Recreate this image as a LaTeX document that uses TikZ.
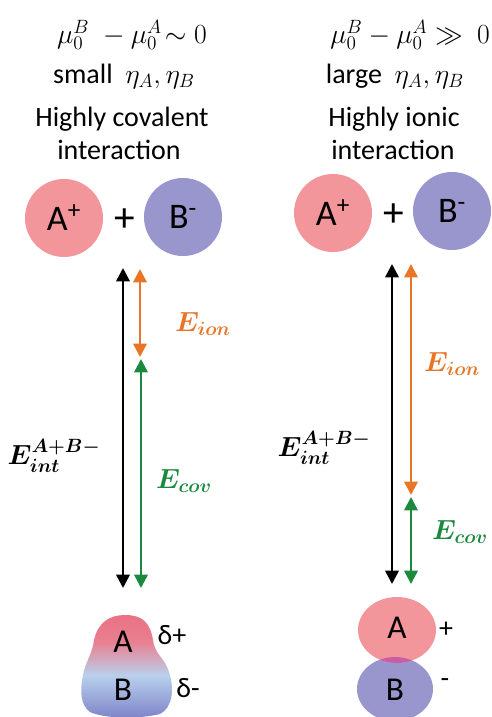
\documentclass[tikz,border=0pt]{standalone}
\usepackage{amsmath}
\usepackage{fontspec}
\setmainfont{Carlito}
\usetikzlibrary{arrows.meta}
\definecolor{ionA}{RGB}{242,150,155}
\definecolor{ionB}{RGB}{152,150,204}
\definecolor{eion}{RGB}{232,118,38}
\definecolor{ecov}{RGB}{28,138,62}
\definecolor{ovl}{RGB}{200,95,165}
\definecolor{mtop}{RGB}{236,88,104}
\definecolor{mpink}{RGB}{232,128,145}
\definecolor{mlight}{RGB}{185,208,236}
\definecolor{mmid}{RGB}{125,130,200}
\definecolor{mbot}{RGB}{72,76,160}
\pgfdeclareverticalshading{molshade}{100bp}{color(0bp)=(mbot); color(25bp)=(mmid); color(46bp)=(mlight); color(62bp)=(mpink); color(100bp)=(mtop)}
\tikzset{
  txt/.style={font=\fontsize{21}{25}\selectfont, inner sep=0pt},
  mth/.style={font=\fontsize{22}{26}\selectfont, inner sep=0pt},
  ionball/.style={circle, minimum size=58.5pt, inner sep=0pt, font=\fontsize{27}{31}\selectfont},
  lvl/.style={line width=1.8pt, {Triangle[width=10pt,length=10pt]}-{Triangle[width=10pt,length=10pt]}},
  elabel/.style={font=\fontsize{21.5}{26}\selectfont, inner sep=0pt},
  big/.style={font=\fontsize{25}{29}\selectfont, inner sep=0pt},
  plussign/.style={font=\fontsize{31}{35}\selectfont, inner sep=0pt},
}
\begin{document}
\begin{tikzpicture}[x=0.75pt,y=-0.75pt]
\useasboundingbox (0,0) rectangle (492,717);
% headings left
\node[mth] (l1) at (132,35) {$\mu_0^B\;-\mu_0^A\!\sim 0$};
\node[txt] (l2) at (124,76) {small\ \ \fontsize{22}{26}\selectfont$\eta_A,\eta_B$};
\node[txt] (l3) at (122,119) {Highly covalent};
\node[txt] (l4) at (119,150) {interaction};
% headings right
\node[mth] (r1) at (410,35) {$\mu_0^B-\mu_0^A\gg\ 0$};
\node[txt] (r2) at (395,76) {large\ \ \fontsize{22}{26}\selectfont$\eta_A,\eta_B$};
\node[txt] (r3) at (394,119) {Highly ionic};
\node[txt] (r4) at (393,150) {interaction};
% ions left
\node[ionball, fill=ionA] (lA) at (64,218) {A\textsuperscript{+}};
\node[plussign] (lplus) at (125,220) {+};
\node[ionball, fill=ionB] (lB) at (183,217) {B\textsuperscript{-}};
% ions right
\node[ionball, fill=ionA] (rA) at (333,213) {A\textsuperscript{+}};
\node[plussign] (rplus) at (394,215) {+};
\node[ionball, fill=ionB] (rB) at (452,211) {B\textsuperscript{-}};
% level coordinates left
\coordinate (lkt) at (123,268);
\coordinate (lkb) at (123,588);
\coordinate (lot) at (140,269);
\coordinate (lob) at (140,357);
\coordinate (lgt) at (141,359);
\coordinate (lgb) at (141,588);
\draw[lvl, black] (lkt) -- (lkb);
\draw[lvl, eion] (lot) -- (lob);
\draw[lvl, ecov] (lgt) -- (lgb);
% level coordinates right
\coordinate (rkt) at (392,264);
\coordinate (rkb) at (392,584);
\coordinate (rot) at (411,264);
\coordinate (rob) at (411,495);
\coordinate (rgt) at (411,497);
\coordinate (rgb) at (411,584);
\draw[lvl, black] (rkt) -- (rkb);
\draw[lvl, eion] (rot) -- (rob);
\draw[lvl, ecov] (rgt) -- (rgb);
% energy labels
\node[elabel] (lint) at (54,456) {$\boldsymbol{E_{int}^{A+B-}}$};
\node[elabel, text=eion] (lion) at (203,324) {$\boldsymbol{E_{ion}}$};
\node[elabel, text=ecov] (lcov) at (184,481) {$\boldsymbol{E_{cov}}$};
\node[elabel] (rint) at (324,448) {$\boldsymbol{E_{int}^{A+B-}}$};
\node[elabel, text=eion] (rion) at (452,364) {$\boldsymbol{E_{ion}}$};
\node[elabel, text=ecov] (rcov) at (460,532) {$\boldsymbol{E_{cov}}$};
% covalent molecule (left)
\shade[shading=molshade] (83,675)
  .. controls (86,660) and (92,655) .. (94,640)
  .. controls (98,622) and (110,615) .. (125,615)
  .. controls (142,615) and (150,622) .. (153,640)
  .. controls (155,655) and (165,658) .. (169,672)
  .. controls (175,690) and (172,708) .. (160,714)
  .. controls (140,719) and (105,719) .. (90,712)
  .. controls (80,705) and (80,690) .. (83,675) -- cycle;
\node[big] (mA) at (123,642) {A};
\node[big] (mB) at (123,690) {B};
\node[txt] (dp) at (172,635) {δ+};
\node[txt] (dm) at (188,688) {δ-};
% ionic pair (right)
\fill[ionB] (395,689) ellipse [x radius=38, y radius=32];
\fill[ionA] (397,630) ellipse [x radius=39, y radius=33];
\begin{scope}
  \clip (395,689) ellipse [x radius=38, y radius=32];
  \fill[ovl] (397,630) ellipse [x radius=39, y radius=33];
\end{scope}
\node[big] (pA) at (397,628) {A};
\node[big] (pB) at (395,690) {B};
\node[txt] (pp) at (446,630) {+};
\node[txt] (pm) at (445,683) {-};
\end{tikzpicture}
\end{document}
